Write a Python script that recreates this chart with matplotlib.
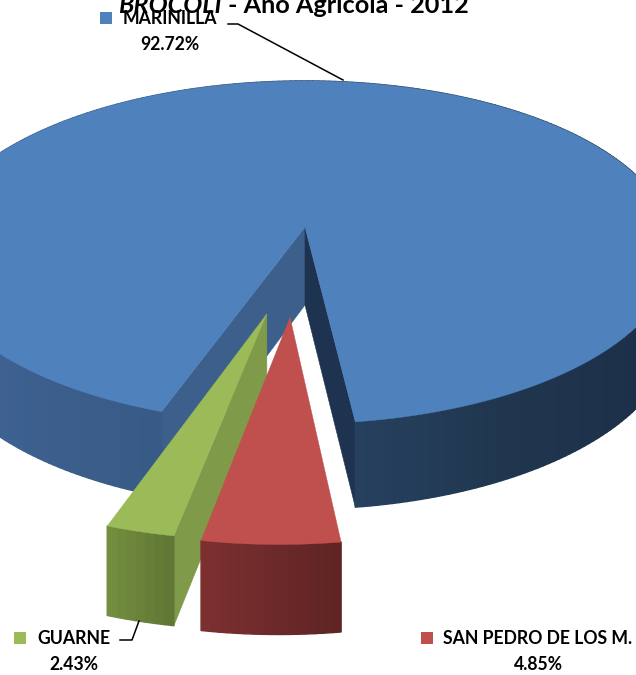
#!/usr/bin/env python
"""
Exploded 3D style pie chart, drawn by hand since matplotlib has no 3D pie.
"""
import numpy as np
import matplotlib
matplotlib.use('Agg')
import matplotlib.pyplot as plt
from matplotlib.patches import Polygon, Rectangle

# clockwise order, starting at the blue slice
categories = ['MARINILLA', 'SAN PEDRO DE LOS M.', 'GUARNE']
values = [92.72, 4.85, 2.43]
explode = [0.0, 0.50, 0.49]
explode_dir = [0.0, 181.2, 188.2]
radius = [1.0, 0.98, 0.98]
top_colors = ['#4f81bd', '#c0504d', '#9bbb59']
side_color = '#3c5f8c'
cut_colors = ['#1e3350', '#c0504d', '#7f9a48']
wall_stops = [
    ([0, 160, 354, 500, 636], ['#3d6190', '#385a85', '#26415f', '#20364f', '#1d3049']),
    ([197, 340], ['#7d3030', '#5e2423']),
    ([105, 172], ['#75903f', '#5f7635']),
]
label_pos = [(170, 18), (538, 639), (74, 639)]
key_pos = [(100, 12), (421, 632), (14, 632)]

# projection of the pie plane onto the picture, in pixels
X0, Y0 = 305, 227
A, B, S, K, T = 368, 167.5, 20, 0.148, 8
H0 = 78
START = 196.4  # clockwise from the back, where the blue slice begins


def project(u, v):
    w = 1 + K * v
    return X0 + (A * u + S * v) / w, Y0 + (T * u - B * v) / w


def height(v):
    w = 1 + K * v
    return H0 * (1 + 0.55 * (1 / w - 1))


def hex_mix(stops, colors, x):
    rgb = np.array([matplotlib.colors.to_rgb(c) for c in colors])
    return [np.interp(x, stops, rgb[:, i]) for i in range(3)]


fig = plt.figure(figsize=(6.36, 6.75), dpi=100)
ax = fig.add_axes([0, 0, 1, 1])
ax.set_xlim(0, 636)
ax.set_ylim(675, 0)
ax.axis('off')
font = ['Lato', 'DejaVu Sans']

starts = START + np.r_[0, np.cumsum(values)[:-1]] * 3.6

# green goes before red, red hides part of its cut face
for i in [0, 2, 1]:
    sweep = values[i] * 3.6
    thetas = np.radians(np.linspace(starts[i], starts[i] + sweep, max(int(sweep), 8)))
    mid = np.radians(explode_dir[i])
    eu, ev = explode[i] * np.sin(mid), explode[i] * np.cos(mid)
    us, vs = eu + radius[i] * np.sin(thetas), ev + radius[i] * np.cos(thetas)
    ax_, ay_ = project(eu, ev)
    xs, ys = project(us, vs)
    hs = height(vs)
    ah = height(ev)

    # cut faces
    if i == 0:
        ax.add_patch(Polygon([(ax_, ay_), (xs[0], ys[0]), (xs[0], ys[0] + hs[0]), (ax_, ay_ + ah)],
                             fc=side_color, ec=side_color, lw=0.4))
        ax.add_patch(Polygon([(ax_, ay_), (xs[-1], ys[-1]), (xs[-1], ys[-1] + hs[-1]), (ax_, ay_ + ah)],
                             fc=cut_colors[0], ec=cut_colors[0], lw=0.4))
    if i == 2:
        ax.add_patch(Polygon([(ax_, ay_), (xs[0], ys[0]), (xs[0], ys[0] + hs[0]), (ax_, ay_ + ah)],
                             fc=cut_colors[2], ec=cut_colors[2], lw=0.4))

    # outer wall as strips, so it can shade from left to right
    stops, cols = wall_stops[i]
    for j in range(len(thetas) - 1):
        c = hex_mix(stops, cols, (xs[j] + xs[j + 1]) / 2)
        ax.add_patch(Polygon([(xs[j], ys[j]), (xs[j + 1], ys[j + 1]),
                              (xs[j + 1], ys[j + 1] + hs[j + 1]), (xs[j], ys[j] + hs[j])],
                             fc=c, ec=c, lw=1.0, joinstyle='round'))

    ax.add_patch(Polygon(np.column_stack([np.r_[ax_, xs], np.r_[ay_, ys]]),
                         fc=top_colors[i], ec=top_colors[i], lw=0.3))

# title, it runs off the top edge of the picture
ax.text(222, 13, 'BROCOLI', family=font, fontsize=18.2, fontweight='bold', fontstyle='italic',
        ha='right', va='baseline', color='black')
ax.text(228, 13, '- Año Agrícola - 2012', family=font, fontsize=18.2, fontweight='bold',
        ha='left', va='baseline', color='black')

# labels with key squares
for i in range(len(categories)):
    kx, ky = key_pos[i]
    ax.add_patch(Rectangle((kx, ky), 12, 12, fc=top_colors[i], ec='none'))
    lx, ly = label_pos[i]
    ax.text(lx, ly, categories[i], family=font, fontsize=12.7, fontweight='bold',
            ha='center', va='center', color='black')
    ax.text(lx, ly + 26, f'{values[i]:.2f}%', family=font, fontsize=12.7, fontweight='bold',
            ha='center', va='center', color='black')

# leader lines
ax.plot([228, 238, 343], [24, 24, 80], color='black', lw=1.1)
ax.plot([120, 132, 139], [640, 640, 621], color='black', lw=1.1)

fig.savefig('out.png', dpi=100)
